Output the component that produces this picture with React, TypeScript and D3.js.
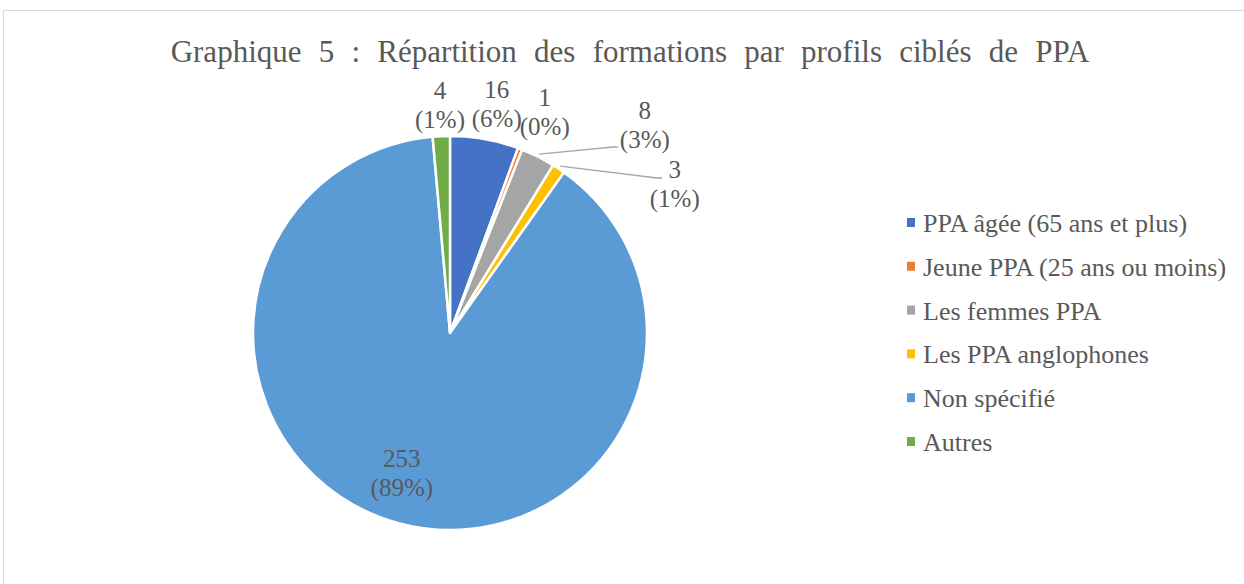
import React from "react";
import * as d3 from "d3";

// données
const categories = [
  "PPA âgée (65 ans et plus)",
  "Jeune PPA (25 ans ou moins)",
  "Les femmes PPA",
  "Les PPA anglophones",
  "Non spécifié",
  "Autres",
];
const values = [16, 1, 8, 3, 253, 4];
const colors = ["#4472C4", "#ED7D31", "#A5A5A5", "#FFC000", "#5B9BD5", "#70AD47"];

// placement des étiquettes (rayon, angle en degrés) et fin des lignes de repère
const labelPolar: [number, number][] = [
  [225, 12.0],
  [233, 24.0],
  [279, 44.3],
  [265, 58.0],
  [156, 198.0],
  [220, 357.4],
];
const leaderEnd: ([number, number] | null)[] = [null, null, [163, -186], [207, -155], null, null];

const width = 1244;
const height = 584;
const cx = 450;
const cy = 333;
const radius = 197;
const font = "Liberation Serif";
const textColor = "#595959";

const App = () => {
  const total = d3.sum(values);
  const pie = d3
    .pie<number>()
    .sort(null)
    .value((d) => d);
  const arcs = pie(values);
  const arc = d3.arc<d3.PieArcDatum<number>>().innerRadius(0).outerRadius(radius);

  // angle compté depuis midi, sens horaire
  const polar = (r: number, deg: number): [number, number] => {
    const a = (deg * Math.PI) / 180;
    return [r * Math.sin(a), -r * Math.cos(a)];
  };

  return (
    <svg
      width={width}
      height={height}
      style={{ position: "absolute", left: 0, top: 0, display: "block", background: "#fff" }}
    >
      <rect x={3.5} y={10.5} width={width + 10} height={height + 10} fill="#fff" stroke="#d9d9d9" strokeWidth={1} />
      <text
        x={630}
        y={62}
        textAnchor="middle"
        style={{ fontFamily: font, wordSpacing: "9.5px" }}
        fontSize={31}
        fill={textColor}
      >
        Graphique 5 : Répartition des formations par profils ciblés de PPA
      </text>
      <g transform={`translate(${cx},${cy})`}>
        {arcs.map((a, i) => (
          <path key={categories[i]} d={arc(a) ?? ""} fill={colors[i]} stroke="#fff" strokeWidth={2.5} strokeLinejoin="round" />
        ))}
        {arcs.map((a, i) => {
          const end = leaderEnd[i];
          if (!end) return null;
          const mid = (a.startAngle + a.endAngle) / 2;
          const [sx, sy] = polar(radius + 3, (mid * 180) / Math.PI);
          return (
            <polyline
              key={"l" + i}
              points={`${sx},${sy} ${end[0]},${end[1]} ${end[0] + 5},${end[1]}`}
              fill="none"
              stroke="#a6a6a6"
              strokeWidth={1.3}
            />
          );
        })}
        {arcs.map((a, i) => {
          const [x, y] = polar(labelPolar[i][0], labelPolar[i][1]);
          const pct = Math.round((values[i] / total) * 100);
          return (
            <text key={"t" + i} x={x} y={y} textAnchor="middle" style={{ fontFamily: font }} fontSize={25} fill={textColor}>
              <tspan x={x} dy={-14.5}>{values[i]}</tspan>
              <tspan x={x} dy={29}>({pct}%)</tspan>
            </text>
          );
        })}
      </g>
      <g transform="translate(907,222)">
        {categories.map((c, i) => (
          <g key={c} transform={`translate(0,${i * 43.8})`}>
            <rect x={0} y={-4} width={8} height={9} fill={colors[i]} />
            <text x={16} y={10} style={{ fontFamily: font }} fontSize={26} fill={textColor}>
              {c}
            </text>
          </g>
        ))}
      </g>
    </svg>
  );
};

export default App;
